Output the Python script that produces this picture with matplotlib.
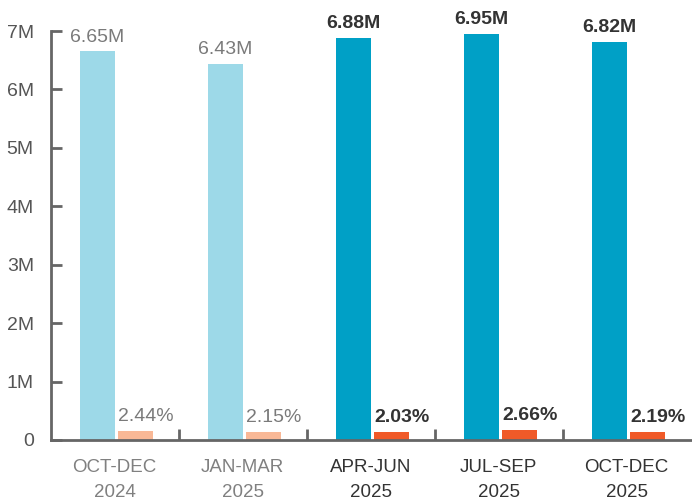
import matplotlib.pyplot as plt
import numpy as np

# data
quarters = ['OCT-DEC\n2024', 'JAN-MAR\n2025', 'APR-JUN\n2025', 'JUL-SEP\n2025', 'OCT-DEC\n2025']
volume_m = [6.65, 6.43, 6.88, 6.95, 6.82]
rate_pct = [2.44, 2.15, 2.03, 2.66, 2.19]
is_recent = [False, False, True, True, True]

blue_old, blue_new = '#9dd9e8', '#00a0c6'
orange_old, orange_new = '#f9b896', '#f05a28'

plt.rcParams['font.family'] = ['Liberation Sans', 'DejaVu Sans']

fig = plt.figure(figsize=(6.92, 5), dpi=100)
ax = fig.add_axes([0.073, 0.12, 0.925, 0.818])

x = np.arange(len(quarters))
w = 0.27
# percent bars are drawn on the same axis, scaled down
rate_h = [p * 0.066 for p in rate_pct]

for i in range(len(quarters)):
    cb = blue_new if is_recent[i] else blue_old
    co = orange_new if is_recent[i] else orange_old
    tc = '#333333' if is_recent[i] else '#7a7a7a'
    fw = 'bold' if is_recent[i] else 'normal'
    ax.bar(x[i] - 0.135, volume_m[i], width=w, color=cb)
    ax.bar(x[i] + 0.165, rate_h[i], width=w, color=co)
    ax.text(x[i] - 0.135, volume_m[i] + 0.1, f'{volume_m[i]:.2f}M', ha='center', va='bottom',
            fontsize=14, color=tc, fontweight=fw)
    ax.text(x[i] + 0.03, rate_h[i] + 0.1, f'{rate_pct[i]:.2f}%', ha='left', va='bottom',
            fontsize=14, color=tc, fontweight=fw)

ax.set_xlim(-0.5, len(quarters) - 0.5)
ax.set_ylim(0, 7)
ax.set_yticks(range(8))
ax.set_yticklabels(['0'] + [f'{v}M' for v in range(1, 8)])
ax.set_xticks(x[:-1] + 0.5)
ax.set_xticklabels([])
ax.set_xticks(x, minor=True)
ax.set_xticklabels(quarters, minor=True)
for lab, rec in zip(ax.get_xticklabels(minor=True), is_recent):
    lab.set_color('#333333' if rec else '#808080')
    lab.set_fontsize(13.5)
    lab.set_linespacing(1.6)

ax.tick_params(axis='x', which='minor', length=0, pad=14)
ax.tick_params(axis='x', which='major', direction='in', length=8, width=2, color='#666666')
ax.tick_params(axis='y', direction='in', length=8, width=2, color='#666666',
               labelsize=14, labelcolor='#555555', pad=12)

for s in ['top', 'right']:
    ax.spines[s].set_visible(False)
for s in ['left', 'bottom']:
    ax.spines[s].set_color('#666666')
    ax.spines[s].set_linewidth(2)

plt.savefig('out.png', dpi=100)
